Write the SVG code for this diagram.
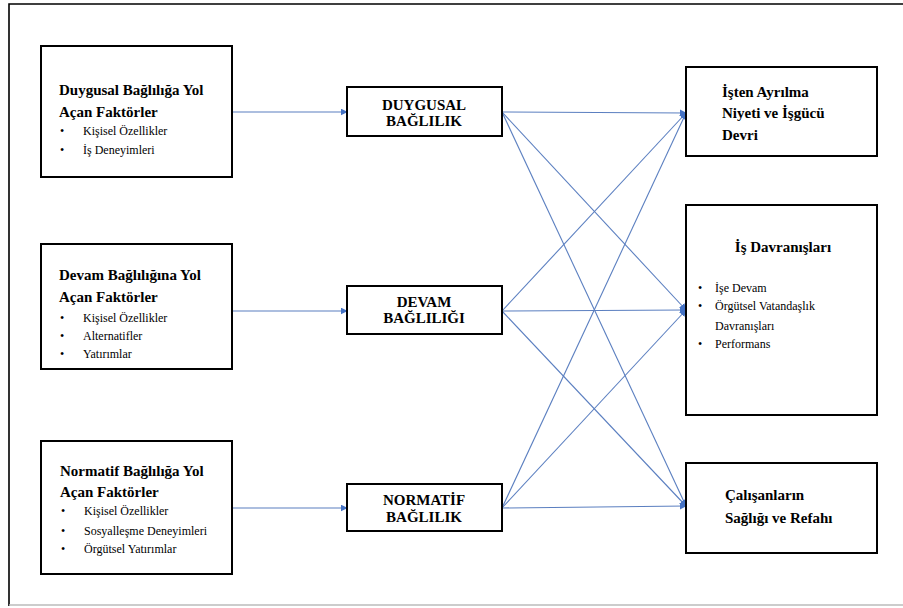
<svg xmlns="http://www.w3.org/2000/svg" width="903" height="608" viewBox="0 0 903 608">
<style>
.box{fill:#fff;stroke:#000;stroke-width:2}
.t{font-family:"Times New Roman","Liberation Serif",Tinos,"DejaVu Serif",serif;fill:#000}
.h{font-weight:bold;font-size:15px}
.b{font-size:12px}
.c{font-weight:bold;font-size:15px;text-anchor:middle}
.con{stroke:#5b7fc0;stroke-width:1.1;fill:none}
</style>
<defs>
<marker id="ah" viewBox="0 0 10 10" refX="9" refY="5" markerWidth="7" markerHeight="7" markerUnits="userSpaceOnUse" orient="auto">
<path d="M0,0 L10,5 L0,10 z" fill="#4472c4"/>
</marker>
</defs>
<rect width="903" height="608" fill="#fff"/>
<g id="frame">
<path d="M9,606 V4 H903" fill="none" stroke="#000" stroke-width="1.6"/>
<line x1="9" y1="605" x2="903" y2="605" stroke="#bbb" stroke-width="1.5"/>
</g>
<g id="connectors">
<line class="con" x1="232" y1="112" x2="347" y2="112" marker-end="url(#ah)"/>
<line class="con" x1="232" y1="311" x2="347" y2="311" marker-end="url(#ah)"/>
<line class="con" x1="232" y1="508" x2="347" y2="508" marker-end="url(#ah)"/>
<line class="con" x1="502" y1="112" x2="686" y2="113" marker-end="url(#ah)"/>
<line class="con" x1="502" y1="112" x2="686" y2="310" marker-end="url(#ah)"/>
<line class="con" x1="502" y1="112" x2="686" y2="506" marker-end="url(#ah)"/>
<line class="con" x1="502" y1="311" x2="686" y2="113" marker-end="url(#ah)"/>
<line class="con" x1="502" y1="311" x2="686" y2="310" marker-end="url(#ah)"/>
<line class="con" x1="502" y1="311" x2="686" y2="506" marker-end="url(#ah)"/>
<line class="con" x1="502" y1="508" x2="686" y2="113" marker-end="url(#ah)"/>
<line class="con" x1="502" y1="508" x2="686" y2="310" marker-end="url(#ah)"/>
<line class="con" x1="502" y1="508" x2="686" y2="506" marker-end="url(#ah)"/>
</g>
<g id="src1" class="t">
<rect class="box" x="41" y="46" width="191" height="131"/>
<text class="t h" x="59" y="95">Duygusal Bağlılığa Yol</text>
<text class="t h" x="59" y="117">Açan Faktörler</text>
<text class="t b" x="60" y="135">•</text><text class="t b" x="83" y="135">Kişisel Özellikler</text>
<text class="t b" x="60" y="154">•</text><text class="t b" x="83" y="154">İş Deneyimleri</text>
</g>
<g id="src2" class="t">
<rect class="box" x="41" y="244" width="191" height="125"/>
<text class="t h" x="59" y="280">Devam Bağlılığına Yol</text>
<text class="t h" x="59" y="302">Açan Faktörler</text>
<text class="t b" x="60" y="322">•</text><text class="t b" x="83" y="322">Kişisel Özellikler</text>
<text class="t b" x="60" y="340">•</text><text class="t b" x="83" y="340">Alternatifler</text>
<text class="t b" x="60" y="358">•</text><text class="t b" x="83" y="358">Yatırımlar</text>
</g>
<g id="src3" class="t">
<rect class="box" x="41" y="441" width="191" height="133"/>
<text class="t h" x="60" y="476">Normatif Bağlılığa Yol</text>
<text class="t h" x="60" y="497">Açan Faktörler</text>
<text class="t b" x="61" y="515">•</text><text class="t b" x="84" y="515">Kişisel Özellikler</text>
<text class="t b" x="61" y="535">•</text><text class="t b" x="84" y="535">Sosyalleşme Deneyimleri</text>
<text class="t b" x="61" y="553">•</text><text class="t b" x="84" y="553">Örgütsel Yatırımlar</text>
</g>
<g id="mid1" class="t">
<rect class="box" x="347" y="87" width="155" height="49"/>
<text class="t c" x="424" y="110">DUYGUSAL</text>
<text class="t c" x="424" y="126">BAĞLILIK</text>
</g>
<g id="mid2" class="t">
<rect class="box" x="347" y="286" width="155" height="48"/>
<text class="t c" x="424" y="307">DEVAM</text>
<text class="t c" x="424" y="323">BAĞLILIĞI</text>
</g>
<g id="mid3" class="t">
<rect class="box" x="347" y="484" width="155" height="47"/>
<text class="t c" x="424" y="505">NORMATİF</text>
<text class="t c" x="424" y="522">BAĞLILIK</text>
</g>
<g id="out1" class="t">
<rect class="box" x="686" y="67" width="191" height="89"/>
<text class="t h" x="722" y="97">İşten Ayrılma</text>
<text class="t h" x="722" y="118">Niyeti ve İşgücü</text>
<text class="t h" x="722" y="140">Devri</text>
</g>
<g id="out2" class="t">
<rect class="box" x="686" y="205" width="191" height="210"/>
<text class="t h" x="783" y="252" text-anchor="middle">İş Davranışları</text>
<text class="t b" x="698" y="292">•</text><text class="t b" x="715" y="292">İşe Devam</text>
<text class="t b" x="698" y="310">•</text><text class="t b" x="715" y="310">Örgütsel Vatandaşlık</text>
<text class="t b" x="715" y="330">Davranışları</text>
<text class="t b" x="698" y="348">•</text><text class="t b" x="715" y="348">Performans</text>
</g>
<g id="out3" class="t">
<rect class="box" x="686" y="463" width="191" height="90"/>
<text class="t h" x="725" y="500">Çalışanların</text>
<text class="t h" x="725" y="523">Sağlığı ve Refahı</text>
</g>
</svg>
